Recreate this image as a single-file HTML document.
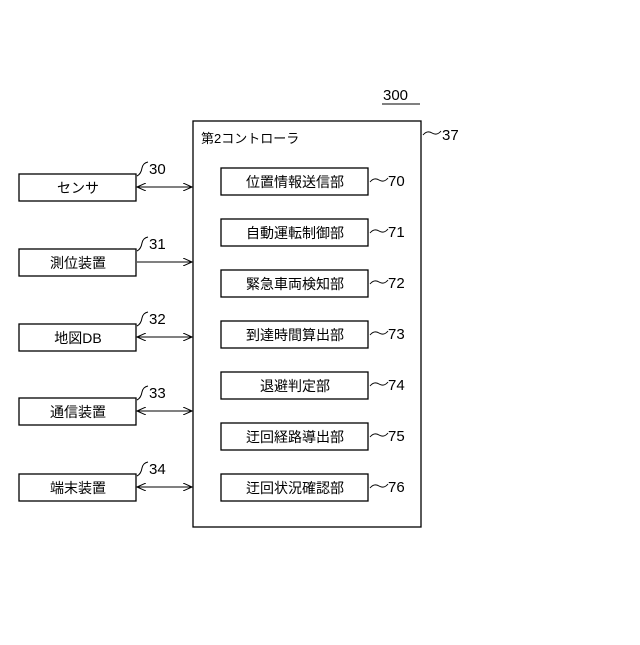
<!DOCTYPE html>
<html><head><meta charset="utf-8"><style>
body{margin:0;background:#fff}
</style></head><body>
<svg width="640" height="640" xmlns="http://www.w3.org/2000/svg" font-family="Liberation Sans, Noto Sans CJK JP, sans-serif">
<defs>
<marker id="a" markerWidth="10" markerHeight="8" refX="9" refY="4" orient="auto-start-reverse" markerUnits="userSpaceOnUse"><path d="M0,0 L9,4 L0,8" fill="none" stroke="#000" stroke-width="1"/></marker>
</defs>
<g fill="none" stroke="#000" stroke-width="1.3">
<rect x="193" y="121" width="228" height="406"/>
<rect x="19" y="174" width="117" height="27"/>
<rect x="19" y="249" width="117" height="27"/>
<rect x="19" y="324" width="117" height="27"/>
<rect x="19" y="398" width="117" height="27"/>
<rect x="19" y="474" width="117" height="27"/>
<rect x="221" y="168" width="147" height="27"/>
<rect x="221" y="219" width="147" height="27"/>
<rect x="221" y="270" width="147" height="27"/>
<rect x="221" y="321" width="147" height="27"/>
<rect x="221" y="372" width="147" height="27"/>
<rect x="221" y="423" width="147" height="27"/>
<rect x="221" y="474" width="147" height="27"/>
</g>
<g stroke="#000" stroke-width="1">
<line x1="137" y1="187" x2="192" y2="187" marker-start="url(#a)" marker-end="url(#a)"/>
<line x1="137" y1="262" x2="192" y2="262" marker-end="url(#a)"/>
<line x1="137" y1="337" x2="192" y2="337" marker-start="url(#a)" marker-end="url(#a)"/>
<line x1="137" y1="411" x2="192" y2="411" marker-start="url(#a)" marker-end="url(#a)"/>
<line x1="137" y1="487" x2="192" y2="487" marker-start="url(#a)" marker-end="url(#a)"/>
<line x1="382" y1="104" x2="420" y2="104"/>
</g>
<g fill="none" stroke="#000" stroke-width="1">
<path d="M137,176 q4,-2 5,-8 q1,-5 6,-6"/>
<path d="M137,251 q4,-2 5,-8 q1,-5 6,-6"/>
<path d="M137,326 q4,-2 5,-8 q1,-5 6,-6"/>
<path d="M137,400 q4,-2 5,-8 q1,-5 6,-6"/>
<path d="M137,476 q4,-2 5,-8 q1,-5 6,-6"/>
<path d="M423,135 q4,-5 9,-2 q5,3 9,-2"/>
<path d="M370,182 q4,-5 9,-2 q5,3 9,-2"/>
<path d="M370,233 q4,-5 9,-2 q5,3 9,-2"/>
<path d="M370,284 q4,-5 9,-2 q5,3 9,-2"/>
<path d="M370,335 q4,-5 9,-2 q5,3 9,-2"/>
<path d="M370,386 q4,-5 9,-2 q5,3 9,-2"/>
<path d="M370,437 q4,-5 9,-2 q5,3 9,-2"/>
<path d="M370,488 q4,-5 9,-2 q5,3 9,-2"/>
</g>
<g font-size="14" fill="#000">
<text x="383" y="100" font-size="15">300</text>
<text x="442" y="140" font-size="15">37</text>
<text x="201" y="143" font-size="13">第2コントローラ</text>
<text x="149" y="174" font-size="15">30</text>
<text x="149" y="249" font-size="15">31</text>
<text x="149" y="324" font-size="15">32</text>
<text x="149" y="398" font-size="15">33</text>
<text x="149" y="474" font-size="15">34</text>
<g text-anchor="middle">
<text x="78" y="193">センサ</text>
<text x="78" y="268">測位装置</text>
<text x="78" y="343">地図DB</text>
<text x="78" y="417">通信装置</text>
<text x="78" y="493">端末装置</text>
<text x="295" y="187">位置情報送信部</text>
<text x="295" y="238">自動運転制御部</text>
<text x="295" y="289">緊急車両検知部</text>
<text x="295" y="340">到達時間算出部</text>
<text x="295" y="391">退避判定部</text>
<text x="295" y="442">迂回経路導出部</text>
<text x="295" y="493">迂回状況確認部</text>
</g>
<g font-size="15">
<text x="388" y="186">70</text>
<text x="388" y="237">71</text>
<text x="388" y="288">72</text>
<text x="388" y="339">73</text>
<text x="388" y="390">74</text>
<text x="388" y="441">75</text>
<text x="388" y="492">76</text>
</g>
</g>
</svg>
</body></html>
